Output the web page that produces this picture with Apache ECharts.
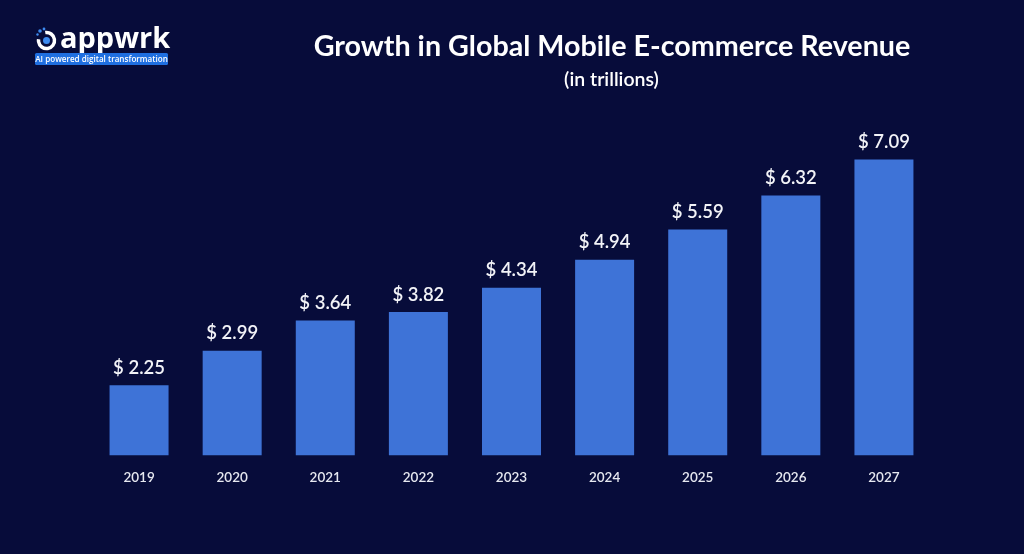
<!DOCTYPE html>
<html>
<head>
<meta charset="utf-8">
<script src="https://cdn.jsdelivr.net/npm/echarts@6/dist/echarts.min.js"></script>
<style>
html,body{margin:0;padding:0;background:#070c3a;}
#chart{width:1024px;height:554px;}
</style>
</head>
<body>
<div id="chart"></div>
<script>
const years = ['2019','2020','2021','2022','2023','2024','2025','2026','2027'];
const revenue = [2.25, 2.99, 3.64, 3.82, 4.34, 4.94, 5.59, 6.32, 7.09];
const titleText = 'Growth in Global Mobile E-commerce Revenue';
const subtitleText = '(in trillions)';

const chart = echarts.init(document.getElementById('chart'));
chart.setOption({
  backgroundColor: '#070c3a',
  animation: false,
  grid: { left: 92.5, right: 93.5, top: 117, bottom: 98.7 },
  xAxis: {
    type: 'category',
    data: years,
    axisLine: { show: false },
    axisTick: { show: false },
    axisLabel: { color: '#e6e8f0', fontFamily: 'Lato', fontSize: 13.5, fontWeight: 600, margin: 15 }
  },
  yAxis: { type: 'value', min: 0.75, max: 8, show: false, splitLine: { show: false } },
  series: [{
    type: 'bar',
    data: revenue,
    barWidth: 59,
    itemStyle: { color: '#3e73d7' },
    label: {
      show: true, position: 'top', distance: 8,
      color: '#f2f3f7', fontFamily: 'Lato', fontSize: 18.5, fontWeight: 600,
      formatter: p => '$ ' + p.value.toFixed(2)
    }
  }],
  graphic: [
    { type: 'text', style: { text: titleText, x: 612, y: 46.5, align: 'center', verticalAlign: 'middle', fill: '#ffffff', font: 'bold 28.7px Lato' } },
    { type: 'text', style: { text: subtitleText, x: 611.5, y: 80, align: 'center', verticalAlign: 'middle', fill: '#ffffff', font: '600 19.5px Lato' } },
    // logo
    { type: 'arc', shape: { cx: 46.5, cy: 40.5, r: 8, startAngle: -Math.PI * 0.55, endAngle: Math.PI * 1.05 }, style: { stroke: '#ffffff', lineWidth: 3.5, fill: null } },
    { type: 'circle', shape: { cx: 46.5, cy: 40.5, r: 3.5 }, style: { fill: '#3d8bf0' } },
    { type: 'circle', shape: { cx: 40, cy: 31, r: 1.8 }, style: { fill: '#3d8bf0' } },
    { type: 'circle', shape: { cx: 44, cy: 29, r: 1.4 }, style: { fill: '#3d8bf0' } },
    { type: 'circle', shape: { cx: 37.5, cy: 34.5, r: 1.2 }, style: { fill: '#3d8bf0' } },
    { type: 'text', style: { text: 'appwrk', x: 60, y: 40, align: 'left', verticalAlign: 'middle', fill: '#ffffff', font: 'bold 29px "Open Sans"' } },
    { type: 'rect', shape: { x: 35, y: 53, width: 133, height: 12, r: 1.5 }, style: { fill: '#1f6fe0' } },
    { type: 'text', style: { text: 'AI powered digital transformation', x: 101.5, y: 59.3, align: 'center', verticalAlign: 'middle', fill: '#ffffff', font: '600 8.1px "Open Sans"' } }
  ]
});
</script>
</body>
</html>
